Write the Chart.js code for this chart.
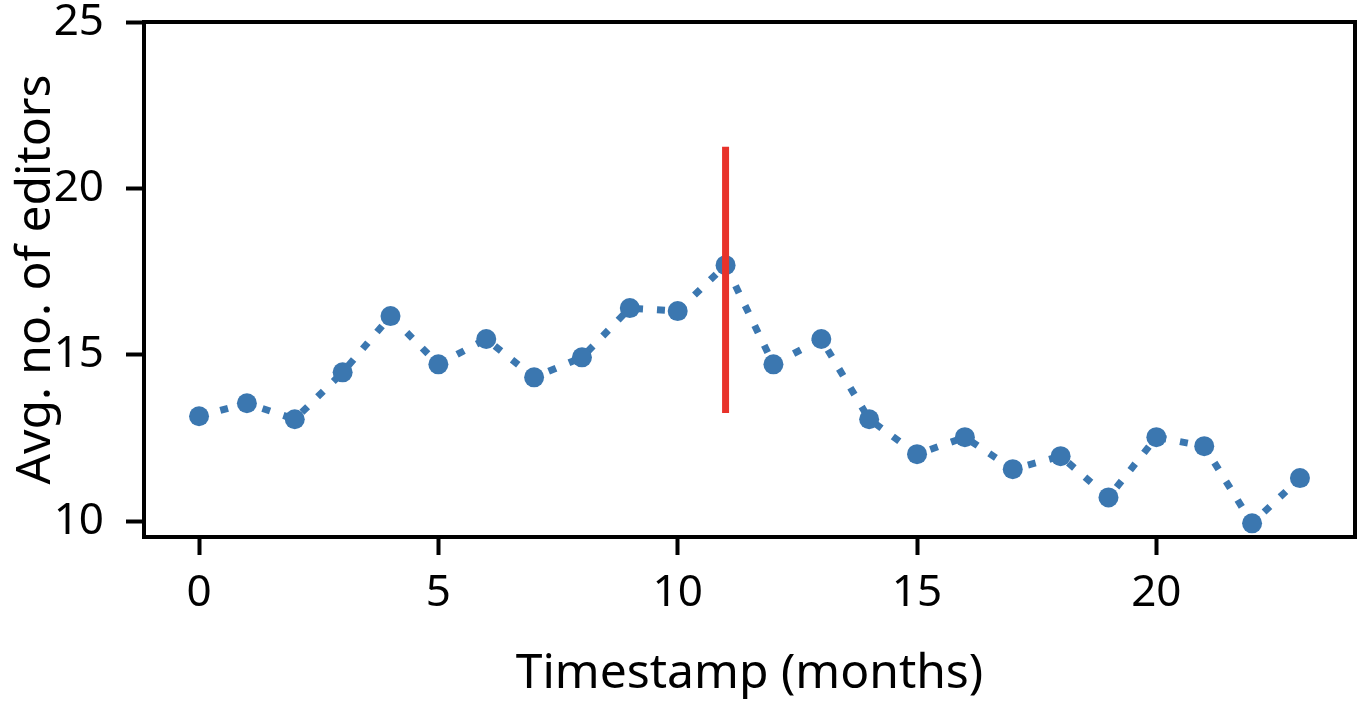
<!DOCTYPE html>
<html>
<head>
<meta charset="utf-8">
<script src="https://cdn.jsdelivr.net/npm/chart.js@4.4.1/dist/chart.umd.min.js"></script>
<style>
  html, body { margin: 0; padding: 0; background: #fff; }
  #wrap { width: 1362px; height: 712px; }
</style>
</head>
<body>
<div id="wrap"><canvas id="editorsChart" width="1362" height="712"></canvas></div>
<script>
// ================= DATA =================
const months = [0, 1, 2, 3, 4, 5, 6, 7, 8, 9, 10, 11, 12, 13, 14, 15, 16, 17, 18, 19, 20, 21, 22, 23];
const avgEditors = [13.15, 13.54, 13.06, 14.47, 16.16, 14.71, 15.47, 14.32, 14.92, 16.40, 16.31, 17.69,
                    14.71, 15.47, 13.06, 12.01, 12.52, 11.56, 11.95, 10.71, 12.52, 12.25, 9.93, 11.29];
const markerMonth = [11, 11];
const markerRange = [13.25, 21.25];

const FONT = "'Noto Sans', 'Open Sans', sans-serif";

// frame round the plot area (top + right spines too)
const framePlugin = {
  id: "frame",
  afterDraw(chart) {
    const { ctx, chartArea: a } = chart;
    ctx.save();
    ctx.strokeStyle = "#000";
    ctx.lineWidth = 4;
    ctx.strokeRect(a.left, a.top, a.right - a.left, a.bottom - a.top);
    ctx.restore();
  },
};

// ================= CHART =================
const ctx = document.getElementById("editorsChart").getContext("2d");

new Chart(ctx, {
  type: "line",
  data: {
    datasets: [
      {
        label: "Avg. editors",
        data: months.map((m, i) => ({ x: m, y: avgEditors[i] })),
        borderColor: "#3b77b0",
        backgroundColor: "#3b77b0",
        borderWidth: 7,
        borderDash: [8, 14],
        borderCapStyle: "butt",
        pointRadius: 10,
        pointBorderWidth: 0,
        tension: 0,
        order: 2,
      },
      {
        label: "marker",
        data: markerMonth.map((m, i) => ({ x: m, y: markerRange[i] })),
        borderColor: "#e8322a",
        borderWidth: 7,
        pointRadius: 0,
        borderCapStyle: "butt",
        order: 1,
      },
    ],
  },
  options: {
    responsive: false,
    animation: false,
    layout: { autoPadding: false, padding: { top: 22, right: 7, left: 0, bottom: 0 } },
    plugins: {
      legend: { display: false },
      tooltip: { enabled: false },
    },
    scales: {
      x: {
        type: "linear",
        min: -1.15,
        max: 24.15,
        grid: { drawOnChartArea: false, tickLength: 18, tickWidth: 4, color: "#000" },
        border: { color: "#000", width: 4 },
        ticks: { stepSize: 5, includeBounds: false, color: "#000", padding: 16,
                 font: { family: FONT, size: 44, lineHeight: 1 } },
        title: { display: true, text: "Timestamp (months)", color: "#000",
                 font: { family: FONT, size: 48, lineHeight: 1 }, padding: { top: 4, bottom: 14 } },
        afterFit(scale) {
          scale.height = 175;
          scale.paddingLeft = 0;
          scale.paddingRight = 0;
        },
      },
      y: {
        min: 9.52,
        max: 25,
        grid: { drawOnChartArea: false, tickLength: 18, tickWidth: 4, color: "#000" },
        border: { color: "#000", width: 4 },
        ticks: { stepSize: 5, includeBounds: false, color: "#000", padding: 22,
                 font: { family: FONT, size: 44, lineHeight: 1 } },
        title: { display: true, text: "Avg. no. of editors", color: "#000",
                 font: { family: FONT, size: 48, lineHeight: 1 }, padding: { top: 12, bottom: 4 } },
        afterFit(scale) {
          scale.width = 144;
          scale.paddingTop = 0;
          scale.paddingBottom = 0;
        },
      },
    },
  },
  plugins: [framePlugin],
});
</script>
</body>
</html>
